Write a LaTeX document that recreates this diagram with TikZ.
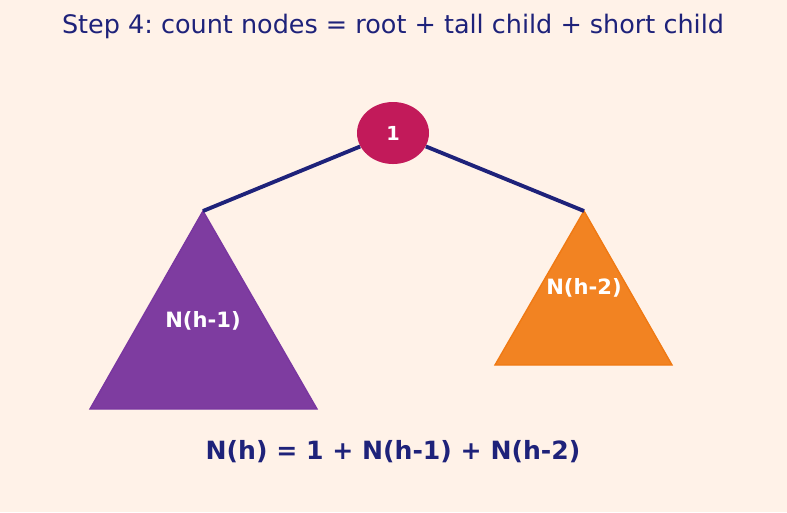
\documentclass[tikz,border=0pt]{standalone}
\usepackage{fontspec}
\setmainfont{DejaVu Sans}
\frenchspacing
\usetikzlibrary{positioning,shapes.geometric}
\definecolor{bgcream}{RGB}{255,242,232}
\definecolor{mainnavy}{RGB}{30,34,122}
\definecolor{rootred}{RGB}{194,26,90}
\definecolor{tallpurple}{RGB}{126,60,160}
\definecolor{talledge}{RGB}{112,44,160}
\definecolor{shortorange}{RGB}{242,131,34}
\definecolor{shortedge}{RGB}{240,122,20}
\begin{document}
\begin{tikzpicture}[x=0.02cm,y=-0.02cm]
\fill[bgcream] (0,0) rectangle (787,512);
\useasboundingbox (0,0) rectangle (787,512);
% Title
\node[mainnavy,font=\fontsize{14.5}{17}\selectfont] (title) at (393,26) {Step 4: count nodes = root + tall child + short child};
% Subtrees
\coordinate (tallapex) at (203,211);
\coordinate (shortapex) at (584,211);
\draw[tallpurple!70!talledge,fill=tallpurple,line width=0.8pt] (tallapex) -- (90,409) -- (317,409) -- cycle;
\draw[shortedge,fill=shortorange,line width=0.8pt] (shortapex) -- (495,365) -- (672,365) -- cycle;
\node[white,font=\bfseries\fontsize{12}{14}\selectfont] (tallname) at (203,321) {N(h-1)};
\node[white,font=\bfseries\fontsize{12}{14}\selectfont] (shortname) at (584,288) {N(h-2)};
% Root
\node[ellipse,fill=rootred,minimum width=72*0.02cm,minimum height=62*0.02cm,inner sep=0pt,text=white,font=\bfseries\fontsize{11}{13}\selectfont] (root) at (393,133) {1};
\draw[mainnavy,line width=2.2pt] (root) -- (tallapex);
\draw[mainnavy,line width=2.2pt] (root) -- (shortapex);
% Formula
\node[mainnavy,font=\bfseries\fontsize{14.3}{17}\selectfont] (formula) at (393,452) {N(h) = 1 + N(h-1) + N(h-2)};
\end{tikzpicture}
\end{document}
